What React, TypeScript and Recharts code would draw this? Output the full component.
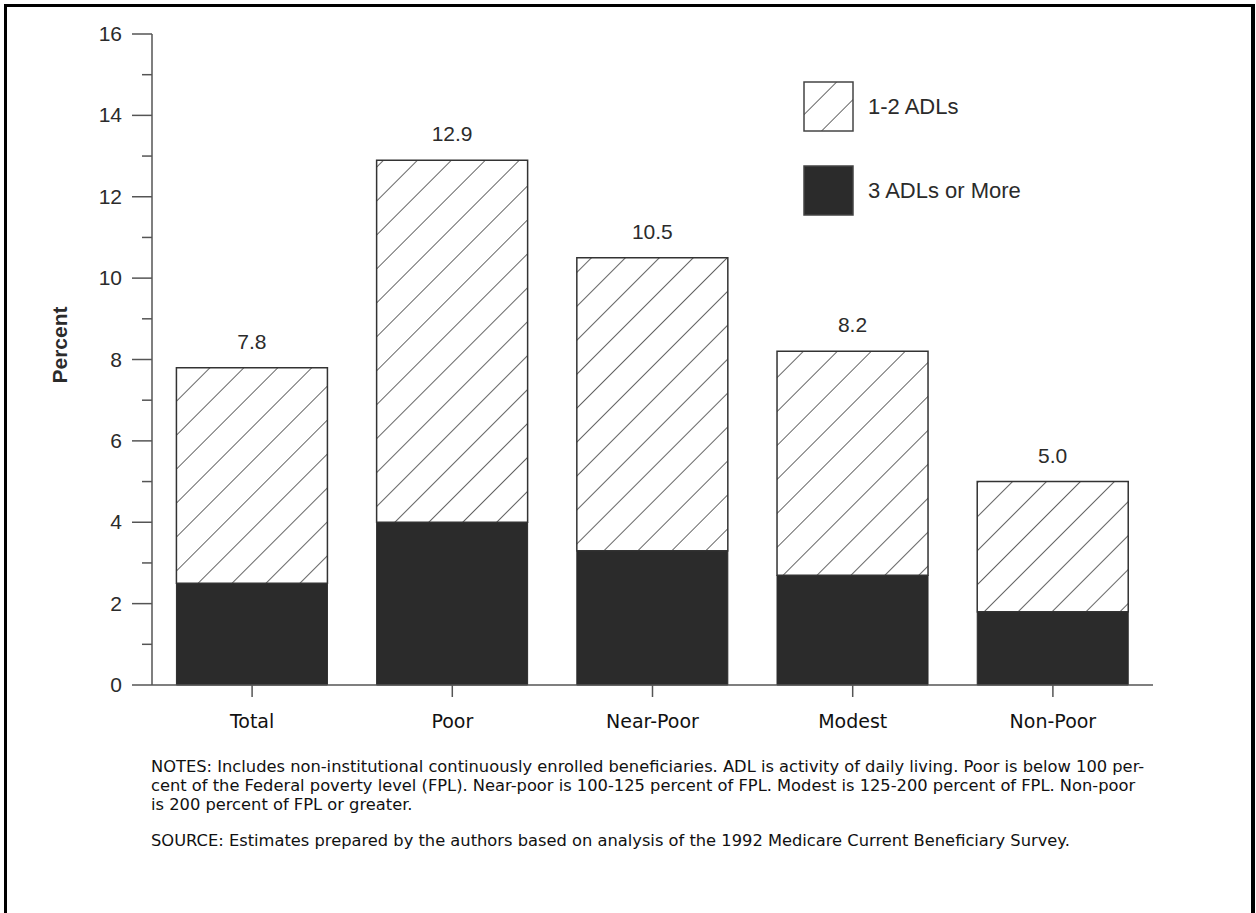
import React from 'react';
import { BarChart, Bar, XAxis, YAxis, Legend, LabelList } from 'recharts';

// values (percent of beneficiaries)
const categories = ['Total', 'Poor', 'Near-Poor', 'Modest', 'Non-Poor'];
const threePlusAdls = [2.5, 4.0, 3.3, 2.7, 1.8];
const oneTwoAdls = [5.3, 8.9, 7.2, 5.5, 3.2];
const totals = [7.8, 12.9, 10.5, 8.2, 5.0];
const yTicks = [0, 1, 2, 3, 4, 5, 6, 7, 8, 9, 10, 11, 12, 13, 14, 15, 16];

const legendItems = ['1-2 ADLs', '3 ADLs or More'];

const noteLines = [
  'NOTES: Includes non-institutional continuously enrolled beneficiaries. ADL is activity of daily living. Poor is below 100 per-',
  'cent of the Federal poverty level (FPL). Near-poor is 100-125 percent of FPL. Modest is 125-200 percent of FPL. Non-poor',
  'is 200 percent of FPL or greater.',
];
const sourceLine =
  'SOURCE: Estimates prepared by the authors based on analysis of the 1992 Medicare Current Beneficiary Survey.';

const data = categories.map((name, i) => ({
  name,
  severe: threePlusAdls[i],
  moderate: oneTwoAdls[i],
  total: totals[i],
}));

const INK = '#2b2b2b';
const AXIS = '#555';
const ARIAL = '"Liberation Sans", Arial, Helvetica, sans-serif';
const VERDANA = '"DejaVu Sans", Verdana, sans-serif';

const HatchDef = ({ id }: { id: string }) => (
  <pattern id={id} patternUnits="userSpaceOnUse" width={24} height={24} patternTransform="rotate(45)">
    <rect width={24} height={24} fill="#fff" />
    <line x1={0} y1={0} x2={0} y2={24} stroke="#555" strokeWidth={1.8} />
  </pattern>
);

const YTick = (props: any) => {
  const { x, y, payload } = props;
  const major = payload.value % 2 === 0;
  return (
    <g>
      <line x1={x - (major ? 20 : 10)} y1={y} x2={x} y2={y} stroke={AXIS} strokeWidth={1.5} />
      {major && (
        <text x={x - 30} y={y} dy={7} textAnchor="end" fontSize={21} fontFamily={ARIAL} fill={INK}>
          {payload.value}
        </text>
      )}
    </g>
  );
};

const LegendBox = () => (
  <div style={{ fontFamily: ARIAL, fontSize: 22, color: INK }}>
    {legendItems.map((label, i) => (
      <div key={label} style={{ display: 'flex', alignItems: 'center', height: 49, marginBottom: i === 0 ? 35 : 0 }}>
        <svg width={51} height={51} style={{ marginRight: 14 }}>
          <defs>
            <HatchDef id="legendHatch" />
          </defs>
          <rect
            x={1}
            y={1}
            width={49}
            height={49}
            fill={i === 0 ? 'url(#legendHatch)' : INK}
            stroke="#444"
            strokeWidth={1.5}
          />
        </svg>
        <span>{label}</span>
      </div>
    ))}
  </div>
);

export default function App() {
  return (
    <div style={{ position: 'absolute', left: 0, top: 0, width: 1256, height: 913, background: '#fff' }}>
      <div
        style={{
          position: 'absolute',
          left: 4,
          top: 4,
          width: 1251,
          height: 909,
          boxSizing: 'border-box',
          borderTop: '3px solid #000',
          borderLeft: '3px solid #000',
          borderRight: '4px solid #000',
        }}
      />
      <div style={{ position: 'absolute', left: 0, top: 0 }}>
        <BarChart
          width={1256}
          height={913}
          data={data}
          margin={{ top: 34, right: 103, bottom: 188, left: 42 }}
          barCategoryGap="12.2%"
        >
          <defs>
            <HatchDef id="barHatch" />
          </defs>
          <XAxis
            dataKey="name"
            height={40}
            axisLine={{ stroke: AXIS, strokeWidth: 1.5 }}
            tickLine={{ stroke: AXIS, strokeWidth: 1.5 }}
            tickSize={12}
            tickMargin={18}
            tick={{ fontSize: 19, fontFamily: VERDANA, fill: '#111' }}
          />
          <YAxis
            width={110}
            domain={[0, 16]}
            ticks={yTicks}
            interval={0}
            axisLine={{ stroke: AXIS, strokeWidth: 1.5 }}
            tickLine={false}
            tickSize={0}
            tickMargin={0}
            tick={<YTick />}
            label={{
              value: 'Percent',
              angle: -90,
              position: 'center',
              content: () => (
                <text
                  x={59}
                  y={345}
                  transform="rotate(-90 59 345)"
                  textAnchor="middle"
                  dominantBaseline="central"
                  fontSize={21}
                  fontWeight="bold"
                  fontFamily={ARIAL}
                  fill={INK}
                >
                  Percent
                </text>
              ),
            }}
          />
          <Legend
            layout="vertical"
            align="center"
            verticalAlign="middle"
            wrapperStyle={{ left: 803, top: 82, width: 300 }}
            content={() => <LegendBox />}
          />
          <Bar dataKey="severe" stackId="a" fill={INK} stroke={INK} isAnimationActive={false} />
          <Bar
            dataKey="moderate"
            stackId="a"
            fill="url(#barHatch)"
            stroke="#333"
            strokeWidth={1.5}
            isAnimationActive={false}
          >
            <LabelList
              dataKey="total"
              position="top"
              offset={19}
              formatter={(v: any) => Number(v).toFixed(1)}
              style={{ fontSize: 21, fontFamily: ARIAL, fill: INK }}
            />
          </Bar>
        </BarChart>
      </div>
      <div
        style={{
          position: 'absolute',
          left: 151,
          top: 757,
          fontFamily: VERDANA,
          fontSize: 16.3,
          lineHeight: '19px',
          color: '#111',
          whiteSpace: 'pre',
        }}
      >
        {noteLines.map((line) => (
          <div key={line}>{line}</div>
        ))}
        <div style={{ marginTop: 17 }}>{sourceLine}</div>
      </div>
    </div>
  );
}
